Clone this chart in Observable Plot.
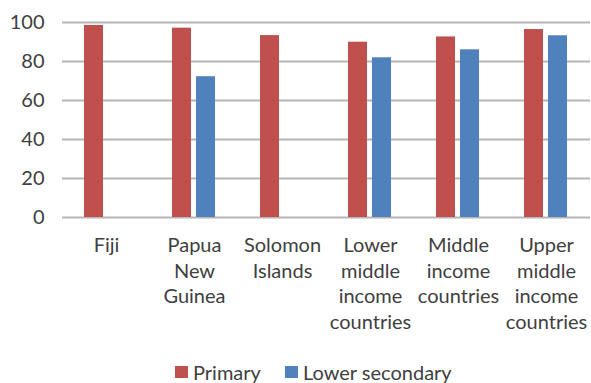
<!DOCTYPE html>
<html>
<head>
<meta charset="utf-8">
<script src="https://cdn.jsdelivr.net/npm/d3@7"></script>
<script src="https://cdn.jsdelivr.net/npm/@observablehq/plot@0.6"></script>
<style>
  html, body { margin: 0; padding: 0; background: #fff; }
  body { width: 591px; height: 383px; overflow: hidden; font-family: Lato, "Open Sans", sans-serif; color: #404040; }
  #legend { position: relative; height: 23px; font-size: 20px; }
  .item { position: absolute; top: 0; display: flex; align-items: center; height: 23px; }
  .sw { width: 13px; height: 12px; margin-right: 5px; }
</style>
</head>
<body>
<div id="chart"></div>
<div id="legend"></div>
<script>
const categories = ["Fiji", "Papua New Guinea", "Solomon Islands", "Lower middle income countries", "Middle income countries", "Upper middle income countries"];
const tickLabels = ["Fiji", "Papua\nNew\nGuinea", "Solomon\nIslands", "Lower\nmiddle\nincome\ncountries", "Middle\nincome\ncountries", "Upper\nmiddle\nincome\ncountries"];
const series = ["Primary", "Lower secondary"];
const primary = [98.5, 97.1, 93.3, 89.9, 92.6, 96.4];
const lowerSecondary = [null, 72.2, null, 81.9, 86.0, 93.2];
const yTicks = [0, 20, 40, 60, 80, 100];
const colors = ["#C0504D", "#4F81BD"];

const data = [];
categories.forEach((c, i) => {
  if (primary[i] != null) data.push({category: c, series: series[0], value: primary[i]});
  if (lowerSecondary[i] != null) data.push({category: c, series: series[1], value: lowerSecondary[i]});
});
const labelOf = new Map(categories.map((c, i) => [c, tickLabels[i]]));

const chart = Plot.plot({
  width: 591,
  height: 360,
  marginLeft: 61,
  marginRight: 0,
  marginTop: 22,
  marginBottom: 143,
  style: {fontFamily: "Lato, 'Open Sans', sans-serif", color: "#404040", background: "#fff"},
  fx: {domain: categories, padding: 0, label: null},
  x: {domain: series, paddingInner: 0.2, paddingOuter: 0.867, axis: null},
  y: {domain: [0, 100], label: null},
  color: {domain: series, range: colors},
  marks: [
    Plot.gridY(yTicks, {stroke: "#b5b5b5", strokeOpacity: 1, strokeWidth: 2}),
    Plot.barY(data, {fx: "category", x: "series", y: "value", fill: "series"}),
    Plot.axisY(yTicks, {tickSize: 0, tickPadding: 18, fontSize: 20, label: null}),
    Plot.axisFx({anchor: "bottom", tickSize: 0, tickPadding: 16, fontSize: 20, lineHeight: 1.29, tickFormat: d => labelOf.get(d), label: null})
  ]
});
document.getElementById("chart").append(chart);

const legend = document.getElementById("legend");
const lefts = [175, 285];
series.forEach((s, i) => {
  const it = document.createElement("div");
  it.className = "item";
  it.style.left = lefts[i] + "px";
  const sw = document.createElement("span");
  sw.className = "sw";
  sw.style.background = colors[i];
  it.append(sw, document.createTextNode(s));
  legend.append(it);
});
</script>
</body>
</html>
